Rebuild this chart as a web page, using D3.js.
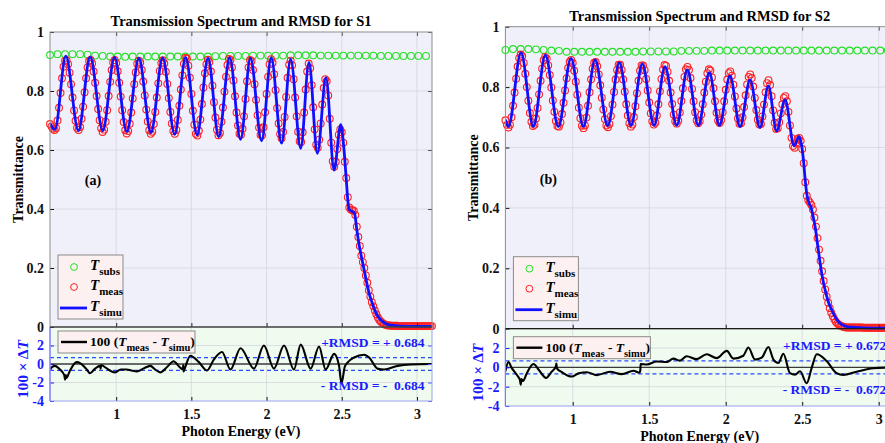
<!DOCTYPE html>
<html>
<head>
<meta charset="utf-8">
<script src="https://cdn.jsdelivr.net/npm/d3@7"></script>
<style>
  body { margin: 0; background: #fff; }
  svg { display: block; font-family: "Liberation Serif", "Times New Roman", serif; font-weight: bold; }
</style>
</head>
<body>
<div id="chart"></div>
<script>
// energy sampling of the measured spectra (eV)
var eDomain = [0.56, 3.1];
var eStart = 0.56, eStep = 0.01, subsStep = 0.05;

var xTicks = [1, 1.5, 2, 2.5, 3];
var tTicks = [0, 0.2, 0.4, 0.6, 0.8, 1];
var dTicks = [-4, -2, 0, 2];

var rmsdS1 = 0.684, rmsdS2 = 0.672;

// substrate transmittance, one value every 0.05 eV from 0.56
var subsS1 = [0.922, 0.925, 0.925, 0.925, 0.925, 0.923, 0.920, 0.919, 0.917, 0.917,
    0.916, 0.917, 0.917, 0.917, 0.917, 0.917, 0.917, 0.917, 0.917, 0.917,
    0.917, 0.917, 0.918, 0.919, 0.919, 0.919, 0.919, 0.920, 0.920, 0.920,
    0.920, 0.920, 0.921, 0.921, 0.921, 0.921, 0.920, 0.920, 0.920, 0.920,
    0.920, 0.920, 0.920, 0.920, 0.919, 0.919, 0.919, 0.919, 0.919, 0.919, 0.919];
var subsS2 = [0.923, 0.926, 0.926, 0.926, 0.925, 0.923, 0.921, 0.920, 0.917, 0.917,
    0.917, 0.917, 0.917, 0.917, 0.917, 0.917, 0.917, 0.917, 0.918, 0.918,
    0.918, 0.918, 0.918, 0.920, 0.920, 0.920, 0.920, 0.921, 0.921, 0.921,
    0.921, 0.921, 0.921, 0.921, 0.921, 0.921, 0.921, 0.921, 0.921, 0.921,
    0.921, 0.921, 0.921, 0.921, 0.921, 0.921, 0.921, 0.921, 0.921, 0.921, 0.921];

// measured transmittance, one value every 0.01 eV from 0.56 to 3.10
var measS1 = [0.688, 0.680, 0.672, 0.668,
    0.674, 0.700, 0.743, 0.793, 0.843, 0.882, 0.903, 0.904, 0.891, 0.862,
    0.823, 0.778, 0.734, 0.699, 0.675, 0.668, 0.678, 0.706, 0.747, 0.796,
    0.843, 0.880, 0.902, 0.905, 0.893, 0.866, 0.828, 0.783, 0.739, 0.701,
    0.674, 0.661, 0.669, 0.696, 0.735, 0.783, 0.831, 0.871, 0.897, 0.905,
    0.894, 0.867, 0.828, 0.781, 0.735, 0.695, 0.667, 0.656, 0.664, 0.689,
    0.727, 0.775, 0.823, 0.863, 0.892, 0.903, 0.897, 0.871, 0.832, 0.785,
    0.737, 0.697, 0.667, 0.655, 0.662, 0.688, 0.729, 0.778, 0.826, 0.868,
    0.895, 0.904, 0.893, 0.865, 0.824, 0.776, 0.729, 0.690, 0.664, 0.655,
    0.668, 0.702, 0.750, 0.805, 0.853, 0.892, 0.912, 0.910, 0.886, 0.845,
    0.790, 0.733, 0.686, 0.655, 0.649, 0.665, 0.703, 0.756, 0.812, 0.860,
    0.891, 0.906, 0.898, 0.866, 0.818, 0.762, 0.710, 0.669, 0.650, 0.658,
    0.696, 0.744, 0.798, 0.848, 0.888, 0.909, 0.905, 0.880, 0.836, 0.782,
    0.727, 0.683, 0.655, 0.652, 0.672, 0.714, 0.773, 0.833, 0.880, 0.905,
    0.902, 0.871, 0.823, 0.770, 0.718, 0.676, 0.652, 0.650, 0.677, 0.728,
    0.790, 0.848, 0.891, 0.908, 0.896, 0.857, 0.803, 0.742, 0.690, 0.654,
    0.640, 0.661, 0.712, 0.780, 0.845, 0.889, 0.903, 0.887, 0.840, 0.778,
    0.714, 0.662, 0.630, 0.627, 0.660, 0.727, 0.805, 0.866, 0.893, 0.877,
    0.820, 0.745, 0.670, 0.618, 0.608, 0.635, 0.690, 0.754, 0.810, 0.840,
    0.833, 0.785, 0.706, 0.625, 0.562, 0.543, 0.560, 0.603, 0.652, 0.670,
    0.660, 0.625, 0.560, 0.505, 0.440, 0.405, 0.398, 0.396, 0.394, 0.380,
    0.340, 0.305, 0.275, 0.242, 0.220, 0.200, 0.175, 0.150, 0.125, 0.103,
    0.084, 0.070, 0.056, 0.043, 0.032, 0.024, 0.018, 0.014, 0.010, 0.008,
    0.006, 0.005, 0.005, 0.004, 0.004, 0.004, 0.004, 0.004, 0.003, 0.003,
    0.003, 0.003, 0.003, 0.003, 0.003, 0.003, 0.003, 0.003, 0.003, 0.003,
    0.003, 0.003, 0.003, 0.003, 0.003, 0.003, 0.003, 0.003, 0.003, 0.003,
    0.003];
var measS2 = [0.690, 0.675, 0.666, 0.675,
    0.700, 0.738, 0.782, 0.828, 0.868, 0.896, 0.908, 0.902, 0.880, 0.844,
    0.800, 0.755, 0.714, 0.685, 0.671, 0.675, 0.696, 0.731, 0.776, 0.821,
    0.861, 0.889, 0.900, 0.894, 0.872, 0.840, 0.799, 0.756, 0.718, 0.688,
    0.671, 0.669, 0.683, 0.711, 0.748, 0.789, 0.829, 0.863, 0.884, 0.890,
    0.880, 0.854, 0.818, 0.775, 0.732, 0.697, 0.672, 0.664, 0.673, 0.699,
    0.738, 0.783, 0.826, 0.861, 0.881, 0.883, 0.869, 0.842, 0.806, 0.765,
    0.726, 0.694, 0.673, 0.667, 0.678, 0.704, 0.742, 0.784, 0.825, 0.857,
    0.874, 0.874, 0.857, 0.825, 0.785, 0.743, 0.706, 0.680, 0.669, 0.676,
    0.701, 0.737, 0.780, 0.821, 0.854, 0.872, 0.872, 0.856, 0.827, 0.789,
    0.749, 0.713, 0.687, 0.676, 0.682, 0.706, 0.743, 0.786, 0.827, 0.858,
    0.873, 0.870, 0.851, 0.821, 0.782, 0.744, 0.709, 0.687, 0.679, 0.689,
    0.716, 0.754, 0.796, 0.834, 0.859, 0.867, 0.857, 0.830, 0.794, 0.753,
    0.717, 0.690, 0.680, 0.687, 0.709, 0.743, 0.782, 0.818, 0.846, 0.859,
    0.855, 0.832, 0.796, 0.753, 0.715, 0.689, 0.681, 0.691, 0.717, 0.753,
    0.791, 0.825, 0.846, 0.852, 0.838, 0.808, 0.769, 0.729, 0.696, 0.679,
    0.680, 0.700, 0.734, 0.773, 0.809, 0.834, 0.842, 0.830, 0.802, 0.764,
    0.724, 0.692, 0.676, 0.678, 0.703, 0.742, 0.783, 0.813, 0.823, 0.807,
    0.770, 0.723, 0.682, 0.661, 0.664, 0.684, 0.713, 0.743, 0.764, 0.770,
    0.753, 0.718, 0.673, 0.632, 0.605, 0.599, 0.613, 0.628, 0.632, 0.622,
    0.595, 0.548, 0.485, 0.440, 0.425, 0.418, 0.410, 0.395, 0.368, 0.338,
    0.300, 0.262, 0.225, 0.190, 0.158, 0.130, 0.106, 0.086, 0.068, 0.053,
    0.041, 0.031, 0.023, 0.017, 0.013, 0.010, 0.008, 0.006, 0.005, 0.004,
    0.004, 0.004, 0.004, 0.004, 0.004, 0.004, 0.004, 0.004, 0.004, 0.004,
    0.003, 0.003, 0.003, 0.003, 0.003, 0.003, 0.003, 0.003, 0.003, 0.003,
    0.003, 0.003, 0.003, 0.003, 0.003, 0.003, 0.003, 0.003, 0.003, 0.003,
    0.003];

// simulated transmittance: [eV, T] at fringe extrema and along the edge
var simuS1 = [[0.56, 0.690], [0.593, 0.670], [0.665, 0.918], [0.749, 0.666], [0.827, 0.916],
    [0.911, 0.666], [0.989, 0.914], [1.071, 0.662], [1.151, 0.911], [1.231, 0.659],
    [1.309, 0.912], [1.389, 0.653], [1.462, 0.914], [1.538, 0.651], [1.611, 0.911],
    [1.682, 0.645], [1.755, 0.913], [1.827, 0.636], [1.893, 0.911], [1.967, 0.631],
    [2.031, 0.913], [2.100, 0.623], [2.160, 0.908], [2.227, 0.606], [2.282, 0.897],
    [2.338, 0.589], [2.395, 0.845], [2.449, 0.532], [2.493, 0.686], [2.515, 0.600],
    [2.530, 0.500], [2.542, 0.420], [2.552, 0.397], [2.570, 0.392], [2.585, 0.385],
    [2.600, 0.330], [2.615, 0.280], [2.632, 0.235], [2.649, 0.193], [2.665, 0.152],
    [2.682, 0.114], [2.700, 0.085], [2.715, 0.063], [2.735, 0.040], [2.760, 0.024],
    [2.790, 0.012], [2.827, 0.006], [2.893, 0.003], [3.000, 0.002], [3.100, 0.002]];
var simuS2 = [[0.56, 0.692], [0.580, 0.670], [0.662, 0.914], [0.743, 0.669], [0.821, 0.906],
    [0.906, 0.669], [0.989, 0.895], [1.070, 0.669], [1.146, 0.890], [1.229, 0.672],
    [1.305, 0.881], [1.381, 0.673], [1.455, 0.877], [1.532, 0.673], [1.603, 0.868],
    [1.680, 0.673], [1.749, 0.857], [1.821, 0.673], [1.893, 0.848], [1.959, 0.673],
    [2.028, 0.837], [2.094, 0.669], [2.159, 0.824], [2.224, 0.666], [2.279, 0.804],
    [2.333, 0.655], [2.388, 0.758], [2.447, 0.606], [2.479, 0.636], [2.495, 0.610],
    [2.508, 0.559], [2.520, 0.490], [2.529, 0.449], [2.545, 0.415], [2.556, 0.405],
    [2.570, 0.375], [2.584, 0.339], [2.600, 0.280], [2.617, 0.218], [2.632, 0.170],
    [2.649, 0.130], [2.670, 0.090], [2.693, 0.062], [2.720, 0.035], [2.747, 0.018],
    [2.780, 0.009], [2.813, 0.005], [2.900, 0.003], [3.000, 0.002], [3.100, 0.002]];

// residual 100 (Tmeas - Tsimu): [eV, value]
var dTS1 = [[0.56, -0.6], [0.575, -0.3], [0.593, -0.2], [0.62, -0.5], [0.655, -1.2],
    [0.66, -1.7], [0.665, -1.2], [0.67, -1.5], [0.69, -0.8], [0.738, 0.2],
    [0.76, 0.1], [0.80, -0.5], [0.827, -1.0], [0.86, -0.5], [0.893, -0.2],
    [0.897, -0.5], [0.90, -0.1], [0.93, -0.4], [0.993, -0.9], [1.03, -0.6],
    [1.071, -0.6], [1.10, -0.7], [1.138, -0.8], [1.18, -0.5], [1.227, -0.2],
    [1.26, -0.6], [1.293, -0.9], [1.34, -0.3], [1.382, 0.3], [1.42, -0.3],
    [1.444, -0.6], [1.446, -0.1], [1.448, -0.8], [1.46, -0.3], [1.493, 0.9],
    [1.55, 0.2], [1.604, -0.7], [1.65, 0.5], [1.704, 1.3], [1.76, -0.6],
    [1.827, 1.7], [1.916, -0.5], [1.982, 2.0], [2.049, -0.5], [2.116, 2.0],
    [2.182, -0.6], [2.227, 2.1], [2.293, -0.5], [2.349, 1.9], [2.393, -0.6],
    [2.449, 1.1], [2.482, -0.2], [2.498, -2.1], [2.52, -0.3], [2.538, 0.15],
    [2.582, 0.7], [2.649, 1.0], [2.682, 0.7], [2.738, -0.5], [2.782, -0.6],
    [2.871, -0.2], [2.96, -0.05], [3.1, 0]];
var dTS2 = [[0.56, -0.4], [0.58, 0.55], [0.601, -0.05], [0.64, -0.9], [0.655, -1.3],
    [0.66, -1.8], [0.665, -1.2], [0.675, -1.4], [0.70, -0.6], [0.743, 0.35],
    [0.78, -0.3], [0.826, -1.1], [0.86, -0.5], [0.89, 0.1], [0.893, 0.4],
    [0.897, -0.1], [0.93, -0.5], [0.993, -0.95], [1.04, -0.6], [1.092, -0.5],
    [1.157, -0.8], [1.244, -0.45], [1.32, -0.7], [1.397, -0.35], [1.436, -0.55],
    [1.442, -0.3], [1.444, 0.35], [1.484, 0.3], [1.549, 0.6], [1.614, 0.55],
    [1.658, 0.9], [1.70, 0.7], [1.745, 1.15], [1.81, 0.85], [1.876, 1.35],
    [1.941, 0.95], [2.007, 1.7], [2.05, 0.9], [2.115, 1.2], [2.148, 2.05],
    [2.192, 0.8], [2.235, 1.0], [2.279, 2.1], [2.312, 0.8], [2.344, 0.45],
    [2.377, 1.4], [2.42, -0.6], [2.453, -0.75], [2.486, -0.4], [2.529, -1.65],
    [2.562, -0.05], [2.595, 1.35], [2.66, 0.65], [2.725, -0.6], [2.769, -0.78],
    [2.856, -0.45], [2.965, -0.1], [3.1, 0]];

var svg = d3.select("#chart").append("svg")
    .attr("width", 885)
    .attr("height", 443);

var panels = [
    {id: "s1", left: 50, right: 432, top: 32, mid: 327, bottom: 401, legY: 4,
        title: "Transmission Spectrum and RMSD for S1", tag: "(a)",
        subs: subsS1, meas: measS1, simu: simuS1, dT: dTS1, rmsd: rmsdS1},
    {id: "s2", left: 505.4, right: 894, top: 26.7, mid: 328.7, bottom: 406, legY: 8,
        title: "Transmission Spectrum and RMSD for S2", tag: "(b)",
        subs: subsS2, meas: measS2, simu: simuS2, dT: dTS2, rmsd: rmsdS2}
];

var fmt = function(d) { return String(d); };
var blank = function() { return ""; };

function styleAxis(a, color) {
    a.attr("font-size", 14).attr("font-family", null).attr("color", color);
    a.select(".domain").remove();
    a.selectAll("text").attr("font-weight", "bold");
}

// T with subscript, appended into a text element
function tSub(text, sub, size) {
    text.append("tspan").attr("font-style", "italic").text("T");
    text.append("tspan").attr("font-size", size).attr("dy", 5).text(sub);
}

function drawPanel(p) {
    var x = d3.scaleLinear().domain(eDomain).range([p.left, p.right]);
    var yT = d3.scaleLinear().domain([0, 1]).range([p.mid, p.top]);
    var yD = d3.scaleLinear().domain([-4, 4]).range([p.bottom, p.mid]);
    var w = p.right - p.left;
    var g = svg.append("g");

    var clip = g.append("clipPath").attr("id", "clip-" + p.id);
    clip.append("rect").attr("x", p.left).attr("y", p.top)
        .attr("width", w).attr("height", p.bottom - p.top);

    g.append("rect").attr("x", p.left).attr("y", p.top)
        .attr("width", w).attr("height", p.mid - p.top)
        .attr("fill", "#f0f0fb");
    g.append("rect").attr("x", p.left).attr("y", p.mid)
        .attr("width", w).attr("height", p.bottom - p.mid)
        .attr("fill", "#eefbee");

    // grid
    var grid = g.append("g").attr("stroke", "#d6d6de").attr("stroke-width", 0.8);
    grid.selectAll("line.gx").data(xTicks).enter().append("line").attr("class", "gx")
        .attr("x1", x).attr("x2", x).attr("y1", p.top).attr("y2", p.bottom);
    grid.selectAll("line.gt").data(tTicks.slice(1, -1)).enter().append("line").attr("class", "gt")
        .attr("x1", p.left).attr("x2", p.right).attr("y1", yT).attr("y2", yT);
    grid.selectAll("line.gd").data([-2, 2]).enter().append("line").attr("class", "gd")
        .attr("x1", p.left).attr("x2", p.right).attr("y1", yD).attr("y2", yD);

    // top panel: spectra
    g.append("g").attr("fill", "none").attr("stroke", "#22e022").attr("stroke-width", 1.1)
        .selectAll("circle").data(p.subs).enter().append("circle")
        .attr("cx", function(d, i) { return x(eStart + i * subsStep); })
        .attr("cy", function(d) { return yT(d); })
        .attr("r", 3.4);

    g.append("g").attr("fill", "none").attr("stroke", "#ff2020").attr("stroke-width", 1.1)
        .selectAll("circle").data(p.meas).enter().append("circle")
        .attr("cx", function(d, i) { return x(eStart + i * eStep); })
        .attr("cy", function(d) { return yT(d); })
        .attr("r", 3.4);

    var simuLine = d3.line()
        .x(function(d) { return x(d[0]); })
        .y(function(d) { return yT(d[1]); })
        .curve(d3.curveMonotoneX);
    g.append("path").datum(p.simu)
        .attr("clip-path", "url(#clip-" + p.id + ")")
        .attr("fill", "none").attr("stroke", "#1010ff").attr("stroke-width", 2.8)
        .attr("d", simuLine);

    // bottom panel: residual
    g.append("line").attr("x1", p.left).attr("x2", p.right)
        .attr("y1", yD(0)).attr("y2", yD(0))
        .attr("stroke", "#3a3a3a").attr("stroke-width", 1.4);
    g.selectAll("line.rmsd").data([p.rmsd, -p.rmsd]).enter().append("line").attr("class", "rmsd")
        .attr("x1", p.left).attr("x2", p.right)
        .attr("y1", yD).attr("y2", yD)
        .attr("stroke", "#2a4cff").attr("stroke-width", 1.2).attr("stroke-dasharray", "4,3");

    var dLine = d3.line()
        .x(function(d) { return x(d[0]); })
        .y(function(d) { return yD(d[1]); })
        .curve(d3.curveMonotoneX);
    g.append("path").datum(p.dT)
        .attr("clip-path", "url(#clip-" + p.id + ")")
        .attr("fill", "none").attr("stroke", "#000").attr("stroke-width", 2.1)
        .attr("stroke-linejoin", "round")
        .attr("d", dLine);

    // axes
    var a;
    a = g.append("g").attr("transform", "translate(" + p.left + ",0)")
        .call(d3.axisLeft(yT).tickValues(tTicks).tickSizeInner(-4).tickSizeOuter(0).tickPadding(6).tickFormat(fmt));
    styleAxis(a, "#111");
    a = g.append("g").attr("transform", "translate(" + p.right + ",0)")
        .call(d3.axisRight(yT).tickValues(tTicks).tickSizeInner(-4).tickSizeOuter(0).tickFormat(blank));
    styleAxis(a, "#555");
    a = g.append("g").attr("transform", "translate(0," + p.top + ")")
        .call(d3.axisTop(x).tickValues(xTicks).tickSizeInner(-4).tickSizeOuter(0).tickFormat(blank));
    styleAxis(a, "#555");
    a = g.append("g").attr("transform", "translate(0," + p.mid + ")")
        .call(d3.axisBottom(x).tickValues(xTicks).tickSizeInner(-4).tickSizeOuter(0).tickFormat(blank));
    styleAxis(a, "#222");

    a = g.append("g").attr("transform", "translate(" + p.left + ",0)")
        .call(d3.axisLeft(yD).tickValues(dTicks).tickSizeInner(-4).tickSizeOuter(0).tickPadding(6).tickFormat(fmt));
    styleAxis(a, "#1a1aff");
    a = g.append("g").attr("transform", "translate(" + p.right + ",0)")
        .call(d3.axisRight(yD).tickValues(dTicks).tickSizeInner(-4).tickSizeOuter(0).tickFormat(blank));
    styleAxis(a, "#5555ff");
    a = g.append("g").attr("transform", "translate(0," + p.bottom + ")")
        .call(d3.axisBottom(x).tickValues(xTicks).tickSizeInner(-4).tickSizeOuter(0).tickPadding(8).tickFormat(fmt));
    styleAxis(a, "#111");

    // frames
    g.append("rect").attr("x", p.left).attr("y", p.top)
        .attr("width", w).attr("height", p.mid - p.top)
        .attr("fill", "none").attr("stroke", "#8c8c8c").attr("stroke-width", 1);
    g.append("path")
        .attr("d", "M" + p.left + "," + p.mid + "V" + p.bottom + "H" + p.right + "V" + p.mid)
        .attr("fill", "none").attr("stroke", "#9aa0f0").attr("stroke-width", 1);
    g.append("line").attr("x1", p.left).attr("x2", p.left).attr("y1", p.mid).attr("y2", p.bottom)
        .attr("stroke", "#7a7aff").attr("stroke-width", 1.2);
    g.append("line").attr("x1", p.left).attr("x2", p.right).attr("y1", p.mid).attr("y2", p.mid)
        .attr("stroke", "#1a1a1a").attr("stroke-width", 1.2);

    // texts
    var cx = (p.left + p.right) / 2;
    g.append("text").attr("x", cx).attr("y", p.top - 6)
        .attr("text-anchor", "middle").attr("font-size", 14.5).text(p.title);
    g.append("text").attr("x", cx).attr("y", p.bottom + 35)
        .attr("text-anchor", "middle").attr("font-size", 14).text("Photon Energy (eV)");
    g.append("text")
        .attr("transform", "translate(" + (p.left - 27) + "," + ((p.top + p.mid) / 2) + ") rotate(-90)")
        .attr("text-anchor", "middle").attr("font-size", 14).text("Transmittance");
    var dl = g.append("text")
        .attr("transform", "translate(" + (p.left - 22) + "," + (p.mid + (p.bottom - p.mid) * 0.57) + ") rotate(-90)")
        .attr("text-anchor", "middle").attr("font-size", 15.5).attr("fill", "#1a1aff");
    dl.append("tspan").text("100 \u00d7 \u0394");
    dl.append("tspan").attr("font-style", "italic").text("T");
    g.append("text").attr("x", p.left + 43).attr("y", yT(0.48))
        .attr("text-anchor", "middle").attr("font-size", 14).text(p.tag);

    g.append("text").attr("x", x(3.05)).attr("y", yD(1.8))
        .attr("text-anchor", "end").attr("font-size", 13.5).attr("fill", "#1a1aff")
        .style("white-space", "pre")
        .text("+RMSD = + " + p.rmsd.toFixed(3));
    g.append("text").attr("x", x(3.05)).attr("y", yD(-2.8))
        .attr("text-anchor", "end").attr("font-size", 13.5).attr("fill", "#1a1aff")
        .style("white-space", "pre")
        .text("- RMSD = -  " + p.rmsd.toFixed(3));

    // legend of the spectra
    var lx = p.left + 8, ly = p.mid - 72;
    var lg = g.append("g");
    lg.append("rect").attr("x", lx).attr("y", ly).attr("width", 65).attr("height", 64)
        .attr("fill", "#fdf0f0").attr("stroke", "#8a8a8a").attr("stroke-width", 1);
    lg.append("circle").attr("cx", lx + 16).attr("cy", ly + 12).attr("r", 3.4)
        .attr("fill", "none").attr("stroke", "#22e022");
    lg.append("circle").attr("cx", lx + 16).attr("cy", ly + 32).attr("r", 3.4)
        .attr("fill", "none").attr("stroke", "#ff2020");
    lg.append("line").attr("x1", lx + 2).attr("x2", lx + 29).attr("y1", ly + 53).attr("y2", ly + 53)
        .attr("stroke", "#1010ff").attr("stroke-width", 2.8);
    tSub(lg.append("text").attr("x", lx + 32).attr("y", ly + 15).attr("font-size", 15), "subs", 11);
    tSub(lg.append("text").attr("x", lx + 32).attr("y", ly + 35).attr("font-size", 15), "meas", 11);
    tSub(lg.append("text").attr("x", lx + 32).attr("y", ly + 56).attr("font-size", 15), "simu", 11);

    // legend of the residual
    var bx = p.left + 8, by = p.mid + p.legY;
    var bg = g.append("g");
    bg.append("rect").attr("x", bx).attr("y", by).attr("width", 137).attr("height", 22)
        .attr("fill", "#fdf0f0").attr("stroke", "#8a8a8a").attr("stroke-width", 1);
    bg.append("line").attr("x1", bx + 3).attr("x2", bx + 29).attr("y1", by + 11).attr("y2", by + 11)
        .attr("stroke", "#000").attr("stroke-width", 2.4);
    var bt = bg.append("text").attr("x", bx + 32).attr("y", by + 15).attr("font-size", 13.5)
        .style("white-space", "pre");
    bt.append("tspan").text("100 (");
    tSub(bt, "meas", 10.5);
    bt.append("tspan").attr("dy", -5).text(" - ");
    tSub(bt, "simu", 10.5);
    bt.append("tspan").attr("dy", -5).text(")");
}

panels.forEach(drawPanel);
</script>
</body>
</html>
